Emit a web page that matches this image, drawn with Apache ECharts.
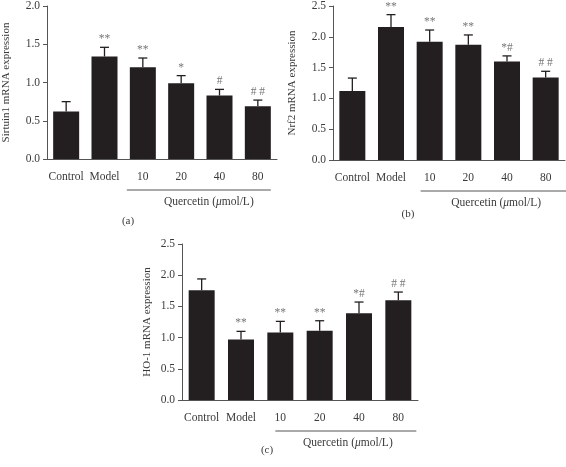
<!DOCTYPE html>
<html>
<head>
<meta charset="utf-8">
<script src="https://cdn.jsdelivr.net/npm/echarts@6/dist/echarts.min.js"></script>
<style>html,body{margin:0;padding:0;background:#fff}#c{width:566px;height:467px}</style>
</head>
<body>
<div id="c"></div>
<script>
const categories = ['Control', 'Model', '10', '20', '40', '80'];

const sirt1Mean  = [0.62, 1.34, 1.20, 0.99, 0.83, 0.69];
const sirt1Upper = [0.75, 1.46, 1.32, 1.09, 0.91, 0.77];
const sirt1Sig   = ['', '**', '**', '*', '#', '# #'];

const nrf2Mean  = [1.12, 2.16, 1.92, 1.87, 1.60, 1.34];
const nrf2Upper = [1.33, 2.36, 2.11, 2.03, 1.69, 1.44];
const nrf2Sig   = ['', '**', '**', '**', '*#', '# #'];

const ho1Mean  = [1.76, 0.97, 1.08, 1.11, 1.39, 1.60];
const ho1Upper = [1.94, 1.10, 1.26, 1.27, 1.57, 1.73];
const ho1Sig   = ['', '**', '**', '**', '*#', '# #'];

const yTitles = ['Sirtuin1 mRNA expression', 'Nrf2 mRNA expression', 'HO-1 mRNA expression'];
const panelLabels = ['(a)', '(b)', '(c)'];
const groupLabel = 'Quercetin';

const FONT = 'Liberation Serif';
const TXT = '#3a3a3a';
const AXIS = '#555';
const BAR = '#231f20';

const chart = echarts.init(document.getElementById('c'), null, {renderer: 'canvas'});

const panels = [
  {mean: sirt1Mean, upper: sirt1Upper, sig: sirt1Sig, max: 2.0, grid: {left: 43, top: 5, width: 234, height: 154}, gap: 35},
  {mean: nrf2Mean, upper: nrf2Upper, sig: nrf2Sig, max: 2.5, grid: {left: 333, top: 5, width: 232, height: 155}, gap: 35},
  {mean: ho1Mean, upper: ho1Upper, sig: ho1Sig, max: 2.5, grid: {left: 182, top: 244, width: 236, height: 156}, gap: 29}
];

const grids = [], xAxes = [], yAxes = [], series = [];
panels.forEach((p, i) => {
  grids.push(p.grid);
  xAxes.push({
    type: 'category', gridIndex: i, data: categories,
    axisLine: {lineStyle: {color: AXIS, width: 1}},
    axisTick: {alignWithLabel: true, length: 4, lineStyle: {color: AXIS}},
    axisLabel: {interval: 0, fontFamily: FONT, fontSize: 11.5, color: TXT, margin: 12}
  });
  yAxes.push({
    type: 'value', gridIndex: i, min: 0, max: p.max, interval: 0.5,
    name: yTitles[i], nameLocation: 'middle', nameGap: p.gap,
    nameTextStyle: {fontFamily: FONT, fontSize: 11, color: TXT},
    axisLine: {show: true, lineStyle: {color: AXIS, width: 1}},
    axisTick: {show: true, length: 4, lineStyle: {color: AXIS}},
    splitLine: {show: false},
    axisLabel: {fontFamily: FONT, fontSize: 11.5, color: TXT, margin: 7, formatter: v => v.toFixed(1)}
  });
  series.push({
    type: 'bar', xAxisIndex: i, yAxisIndex: i, data: p.mean, barWidth: 26,
    itemStyle: {color: BAR}, silent: true
  });
  series.push({
    type: 'custom', xAxisIndex: i, yAxisIndex: i, silent: true, z: 5,
    data: p.mean.map((m, k) => [k, m, p.upper[k]]),
    renderItem: (params, api) => {
      const k = api.value(0);
      const top = api.coord([k, api.value(1)]);
      const up = api.coord([k, api.value(2)]);
      const x = top[0];
      return {
        type: 'group',
        children: [
          {type: 'line', shape: {x1: x, y1: top[1], x2: x, y2: up[1]}, style: {stroke: BAR, lineWidth: 1.3}},
          {type: 'line', shape: {x1: x - 4.5, y1: up[1], x2: x + 4.5, y2: up[1]}, style: {stroke: BAR, lineWidth: 1.3}},
          {type: 'text', x: x, y: up[1] - 2, style: {text: p.sig[k], fontFamily: FONT, fontSize: 11.5, fill: '#777', align: 'center', verticalAlign: 'bottom'}}
        ]
      };
    }
  });
});

chart.setOption({animation: false, grid: grids, xAxis: xAxes, yAxis: yAxes, series: series});

// annotations under the quercetin groups
const lineExt = [[-16, 13], [-9, 30], [-5, 18]];
const labelPos = [[128, 221], [408, 214], [267, 450]];
const graphics = [];
panels.forEach((p, i) => {
  const x10 = chart.convertToPixel({xAxisIndex: i}, '10');
  const x80 = chart.convertToPixel({xAxisIndex: i}, '80');
  const yb = p.grid.top + p.grid.height;
  const x1 = x10 + lineExt[i][0], x2 = Math.min(x80 + lineExt[i][1], 566);
  const ly = yb + 31;
  graphics.push({type: 'line', shape: {x1: x1, y1: ly, x2: x2, y2: ly}, style: {stroke: AXIS, lineWidth: 1}});
  graphics.push({
    type: 'text', x: (x10 - 16 + x80 + 13) / 2 + 10, y: ly + 12,
    style: {
      text: '{n|' + groupLabel + ' (}{i|μ}{n|mol/L)}',
      rich: {n: {fontFamily: FONT, fontSize: 11.5, fill: TXT}, i: {fontFamily: FONT, fontSize: 11.5, fontStyle: 'italic', fill: TXT}},
      align: 'center', verticalAlign: 'middle'
    }
  });
  graphics.push({
    type: 'text', x: labelPos[i][0], y: labelPos[i][1],
    style: {text: panelLabels[i], fontFamily: FONT, fontSize: 11, fill: TXT, align: 'center', verticalAlign: 'middle'}
  });
});
chart.setOption({graphic: graphics});
</script>
</body>
</html>
